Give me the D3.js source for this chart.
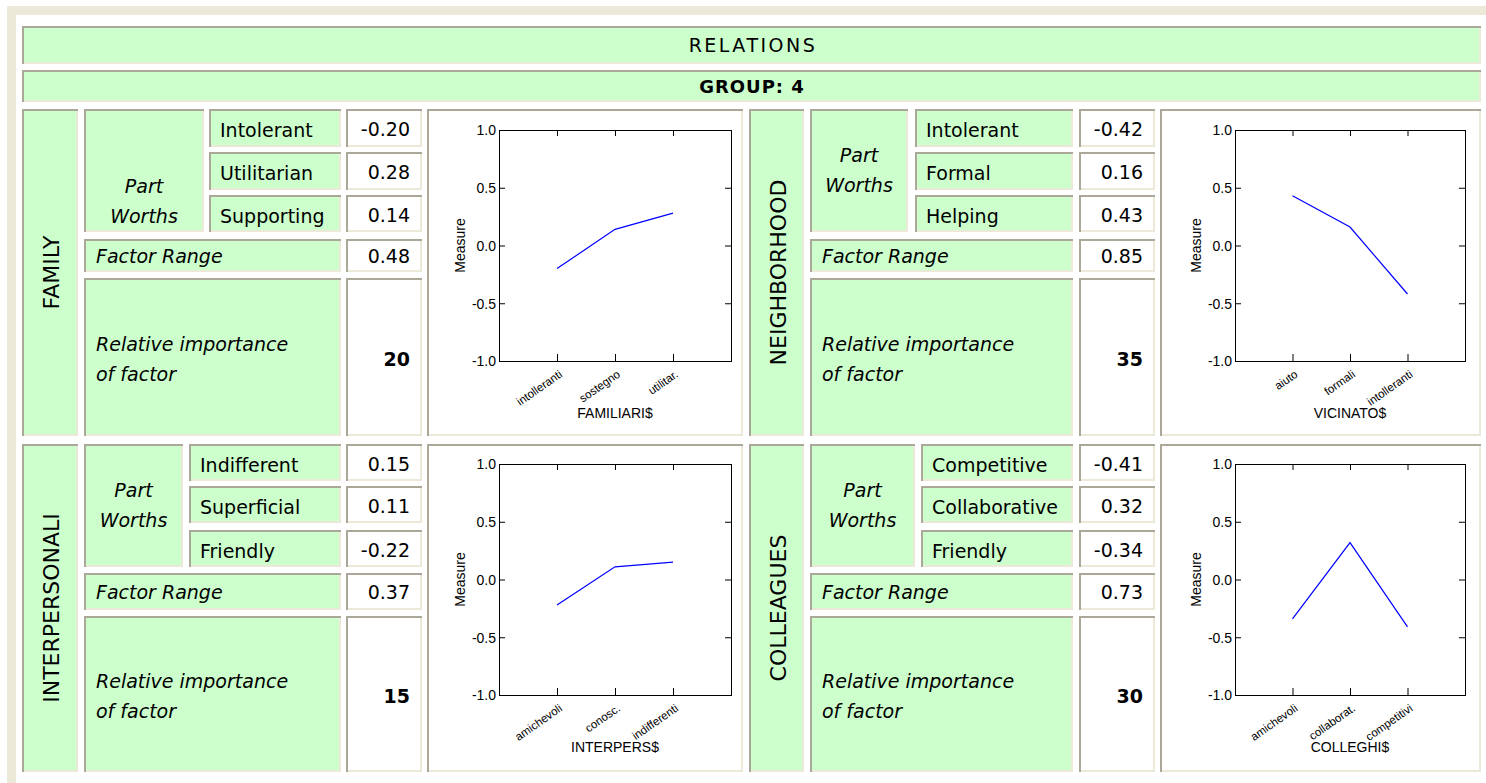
<!DOCTYPE html>
<html><head><meta charset="utf-8">
<script src="https://cdn.jsdelivr.net/npm/d3@7"></script>
<style>
html,body{margin:0;padding:0;background:#fff;}
svg{display:block;}
</style></head>
<body>
<script>
// ---------- DATA ----------
const title = "RELATIONS";
const groupLabel = "GROUP: 4";
const factors = ["FAMILY", "NEIGHBORHOOD", "INTERPERSONALI", "COLLEAGUES"];
const levelLabels = [
  ["Intolerant", "Utilitarian", "Supporting"],
  ["Intolerant", "Formal", "Helping"],
  ["Indifferent", "Superficial", "Friendly"],
  ["Competitive", "Collaborative", "Friendly"]
];
const partWorths = [
  [-0.20, 0.28, 0.14],
  [-0.42, 0.16, 0.43],
  [0.15, 0.11, -0.22],
  [-0.41, 0.32, -0.34]
];
const factorRange = [0.48, 0.85, 0.37, 0.73];
const importance = [20, 35, 15, 30];
const chartVars = ["FAMILIARI$", "VICINATO$", "INTERPERS$", "COLLEGHI$"];
const chartCats = [
  ["intolleranti", "sostegno", "utilitar."],
  ["aiuto", "formali", "intolleranti"],
  ["amichevoli", "conosc.", "indifferenti"],
  ["amichevoli", "collaborat.", "competitivi"]
];
const chartValues = [
  [-0.20, 0.14, 0.28],
  [0.43, 0.16, -0.42],
  [-0.22, 0.11, 0.15],
  [-0.34, 0.32, -0.41]
];
const yTicks = [-1.0, -0.5, 0.0, 0.5, 1.0];

// ---------- LAYOUT ----------
const W = 1486, H = 783;
const GREEN = "#ccffcc", DARK = "#aca899", LIGHT = "#ece9d8", BEIGE = "#ece9d8";
const TFONT = "'Comic Sans MS', 'DejaVu Sans', sans-serif";
const CFONT = "'Liberation Sans', Arial, sans-serif";
const f2 = v => d3.format(".2f")(v).replace("\u2212", "-");
const f1 = v => d3.format(".1f")(v).replace("\u2212", "-");

const colsX = [
  { label: [22, 78], chart: [427, 743], val: [346, 422], plot: [499, 731],
    pwTop: [84, 204], catTop: [209, 341], pwBot: [84, 183], catBot: [189, 341], fr: 84 },
  { label: [749, 804], chart: [1160, 1481], val: [1079, 1155], plot: [1235, 1465],
    pwTop: [810, 908], catTop: [915, 1073], pwBot: [810, 915], catBot: [921, 1073], fr: 810 }
];
const rowsY = [
  { all: [109, 436], rows: [[109, 147], [152, 190], [195, 232]], fr: [239, 272], rel: [278, 436], plot: [130, 361] },
  { all: [444, 772], rows: [[444, 481], [486, 523], [530, 567]], fr: [573, 610], rel: [616, 772], plot: [464, 695] }
];
const pwOffset = [31, 0, 0, 0];

const svg = d3.select("body").append("svg").attr("width", W).attr("height", H);

// beige frame
svg.append("rect").attr("x", 7).attr("y", 6).attr("width", W - 7).attr("height", 9).attr("fill", BEIGE);
svg.append("rect").attr("x", 7).attr("y", 6).attr("width", 9).attr("height", H - 6).attr("fill", BEIGE);

function cell(x0, y0, x1, y1, fill) {
  const g = svg.append("g");
  g.append("rect").attr("x", x0).attr("y", y0).attr("width", x1 - x0).attr("height", y1 - y0).attr("fill", fill);
  g.append("rect").attr("x", x0).attr("y", y0).attr("width", x1 - x0).attr("height", 2).attr("fill", DARK);
  g.append("rect").attr("x", x0).attr("y", y0).attr("width", 2).attr("height", y1 - y0).attr("fill", DARK);
  g.append("rect").attr("x", x0 + 2).attr("y", y1 - 2).attr("width", x1 - x0 - 2).attr("height", 2).attr("fill", LIGHT);
  g.append("rect").attr("x", x1 - 2).attr("y", y0 + 2).attr("width", 2).attr("height", y1 - y0 - 2).attr("fill", LIGHT);
  return g;
}
function txt(x, y, s, opts = {}) {
  return svg.append("text").attr("x", x).attr("y", y).text(s)
    .attr("font-family", opts.family || TFONT)
    .attr("font-size", opts.size || 19)
    .attr("font-style", opts.style || "normal")
    .attr("font-weight", opts.weight || "normal")
    .attr("letter-spacing", opts.ls || 0)
    .attr("text-anchor", opts.anchor || "start")
    .attr("fill", "#000");
}

// header cells
cell(22, 26, 1481, 64, GREEN);
txt(753, 52, title, { size: 19, anchor: "middle", ls: 2.5 });
cell(22, 70, 1481, 102, GREEN);
txt(752, 93, groupLabel, { size: 18, anchor: "middle", weight: "bold", ls: 1 });

factors.forEach((name, i) => {
  const C = colsX[i % 2], R = rowsY[Math.floor(i / 2)];
  const top = Math.floor(i / 2) === 0;
  const pw = top ? C.pwTop : C.pwBot, cat = top ? C.catTop : C.catBot;

  // factor label (vertical)
  cell(C.label[0], R.all[0], C.label[1], R.all[1], GREEN);
  const cx = (C.label[0] + C.label[1]) / 2 + 1, cy = (R.all[0] + R.all[1]) / 2;
  svg.append("text").attr("transform", `translate(${cx + 8},${cy}) rotate(-90)`)
    .attr("text-anchor", "middle").attr("font-family", TFONT).attr("font-size", 22).text(name);

  // part worths
  cell(pw[0], R.rows[0][0], pw[1], R.rows[2][1], GREEN);
  const pcx = (pw[0] + pw[1]) / 2, pcy = (R.rows[0][0] + R.rows[2][1]) / 2 + pwOffset[i];
  txt(pcx, pcy - 9, "Part", { anchor: "middle", style: "italic" });
  txt(pcx, pcy + 21, "Worths", { anchor: "middle", style: "italic" });

  levelLabels[i].forEach((lab, j) => {
    const [y0, y1] = R.rows[j];
    cell(cat[0], y0, cat[1], y1, GREEN);
    txt(cat[0] + 11, (y0 + y1) / 2 + 9, lab);
    cell(C.val[0], y0, C.val[1], y1, "#fff");
    txt(C.val[1] - 12, (y0 + y1) / 2 + 8, f2(partWorths[i][j]), { anchor: "end" });
  });

  // factor range
  cell(C.fr, R.fr[0], cat[1], R.fr[1], GREEN);
  txt(C.fr + 12, (R.fr[0] + R.fr[1]) / 2 + 7, "Factor Range", { style: "italic" });
  cell(C.val[0], R.fr[0], C.val[1], R.fr[1], "#fff");
  txt(C.val[1] - 12, (R.fr[0] + R.fr[1]) / 2 + 7, f2(factorRange[i]), { anchor: "end" });

  // relative importance
  cell(C.fr, R.rel[0], cat[1], R.rel[1], GREEN);
  const rcy = (R.rel[0] + R.rel[1]) / 2;
  txt(C.fr + 12, rcy - 6, "Relative importance", { style: "italic" });
  txt(C.fr + 12, rcy + 24, "of factor", { style: "italic" });
  cell(C.val[0], R.rel[0], C.val[1], R.rel[1], "#fff");
  txt(C.val[1] - 12, rcy + 9, importance[i], { anchor: "end", weight: "bold" });

  // chart cell
  cell(C.chart[0], R.all[0], C.chart[1], R.all[1], "#fff");
  const px0 = C.plot[0], px1 = C.plot[1], py0 = R.plot[0], py1 = R.plot[1];
  const x = d3.scalePoint().domain(chartCats[i]).range([px0, px1]).padding(1);
  const y = d3.scaleLinear().domain([-1, 1]).range([py1, py0]);
  const g = svg.append("g");
  g.append("g").attr("transform", `translate(${px0},0)`)
    .call(d3.axisLeft(y).tickValues(yTicks).tickSize(-6).tickPadding(4).tickFormat(d => f1(d)))
    .call(a => { a.selectAll("text").attr("font-family", CFONT).attr("font-size", 14).attr("fill", "#000").attr("x", -3).attr("dy", "0.35em"); a.select(".domain").remove(); a.selectAll("line").attr("stroke", "#000"); });
  g.append("g").attr("transform", `translate(${px1},0)`)
    .call(d3.axisRight(y).tickValues(yTicks).tickSize(-6).tickFormat(""))
    .call(a => { a.select(".domain").remove(); a.selectAll("line").attr("stroke", "#000"); });
  g.append("g").attr("transform", `translate(0,${py1})`)
    .call(d3.axisBottom(x).tickSize(-7).tickFormat(""))
    .call(a => { a.select(".domain").remove(); a.selectAll("line").attr("stroke", "#000"); });
  g.append("g").attr("transform", `translate(0,${py0})`)
    .call(d3.axisTop(x).tickSize(-6).tickFormat(""))
    .call(a => { a.select(".domain").remove(); a.selectAll("line").attr("stroke", "#000"); });
  g.append("rect").attr("x", px0 + 0.5).attr("y", py0 + 0.5).attr("width", px1 - px0).attr("height", py1 - py0)
    .attr("fill", "none").attr("stroke", "#000").attr("stroke-width", 1);
  // rotated category labels
  chartCats[i].forEach(c => {
    g.append("text").attr("transform", `translate(${x(c) + 6},${py1 + 15}) rotate(-35)`)
      .attr("text-anchor", "end").attr("font-family", CFONT).attr("font-size", 11.5).text(c);
  });
  // axis titles
  g.append("text").attr("x", (px0 + px1) / 2).attr("y", py1 + 57).attr("text-anchor", "middle")
    .attr("font-family", CFONT).attr("font-size", 14).text(chartVars[i]);
  g.append("text").attr("transform", `translate(${px0 - 34},${(py0 + py1) / 2}) rotate(-90)`)
    .attr("text-anchor", "middle").attr("font-family", CFONT).attr("font-size", 14).text("Measure");
  // line
  g.append("path").datum(chartValues[i])
    .attr("d", d3.line().x((d, k) => x(chartCats[i][k])).y(d => y(d)))
    .attr("fill", "none").attr("stroke", "#0000ff").attr("stroke-width", 1.2);
});
</script>
</body></html>
